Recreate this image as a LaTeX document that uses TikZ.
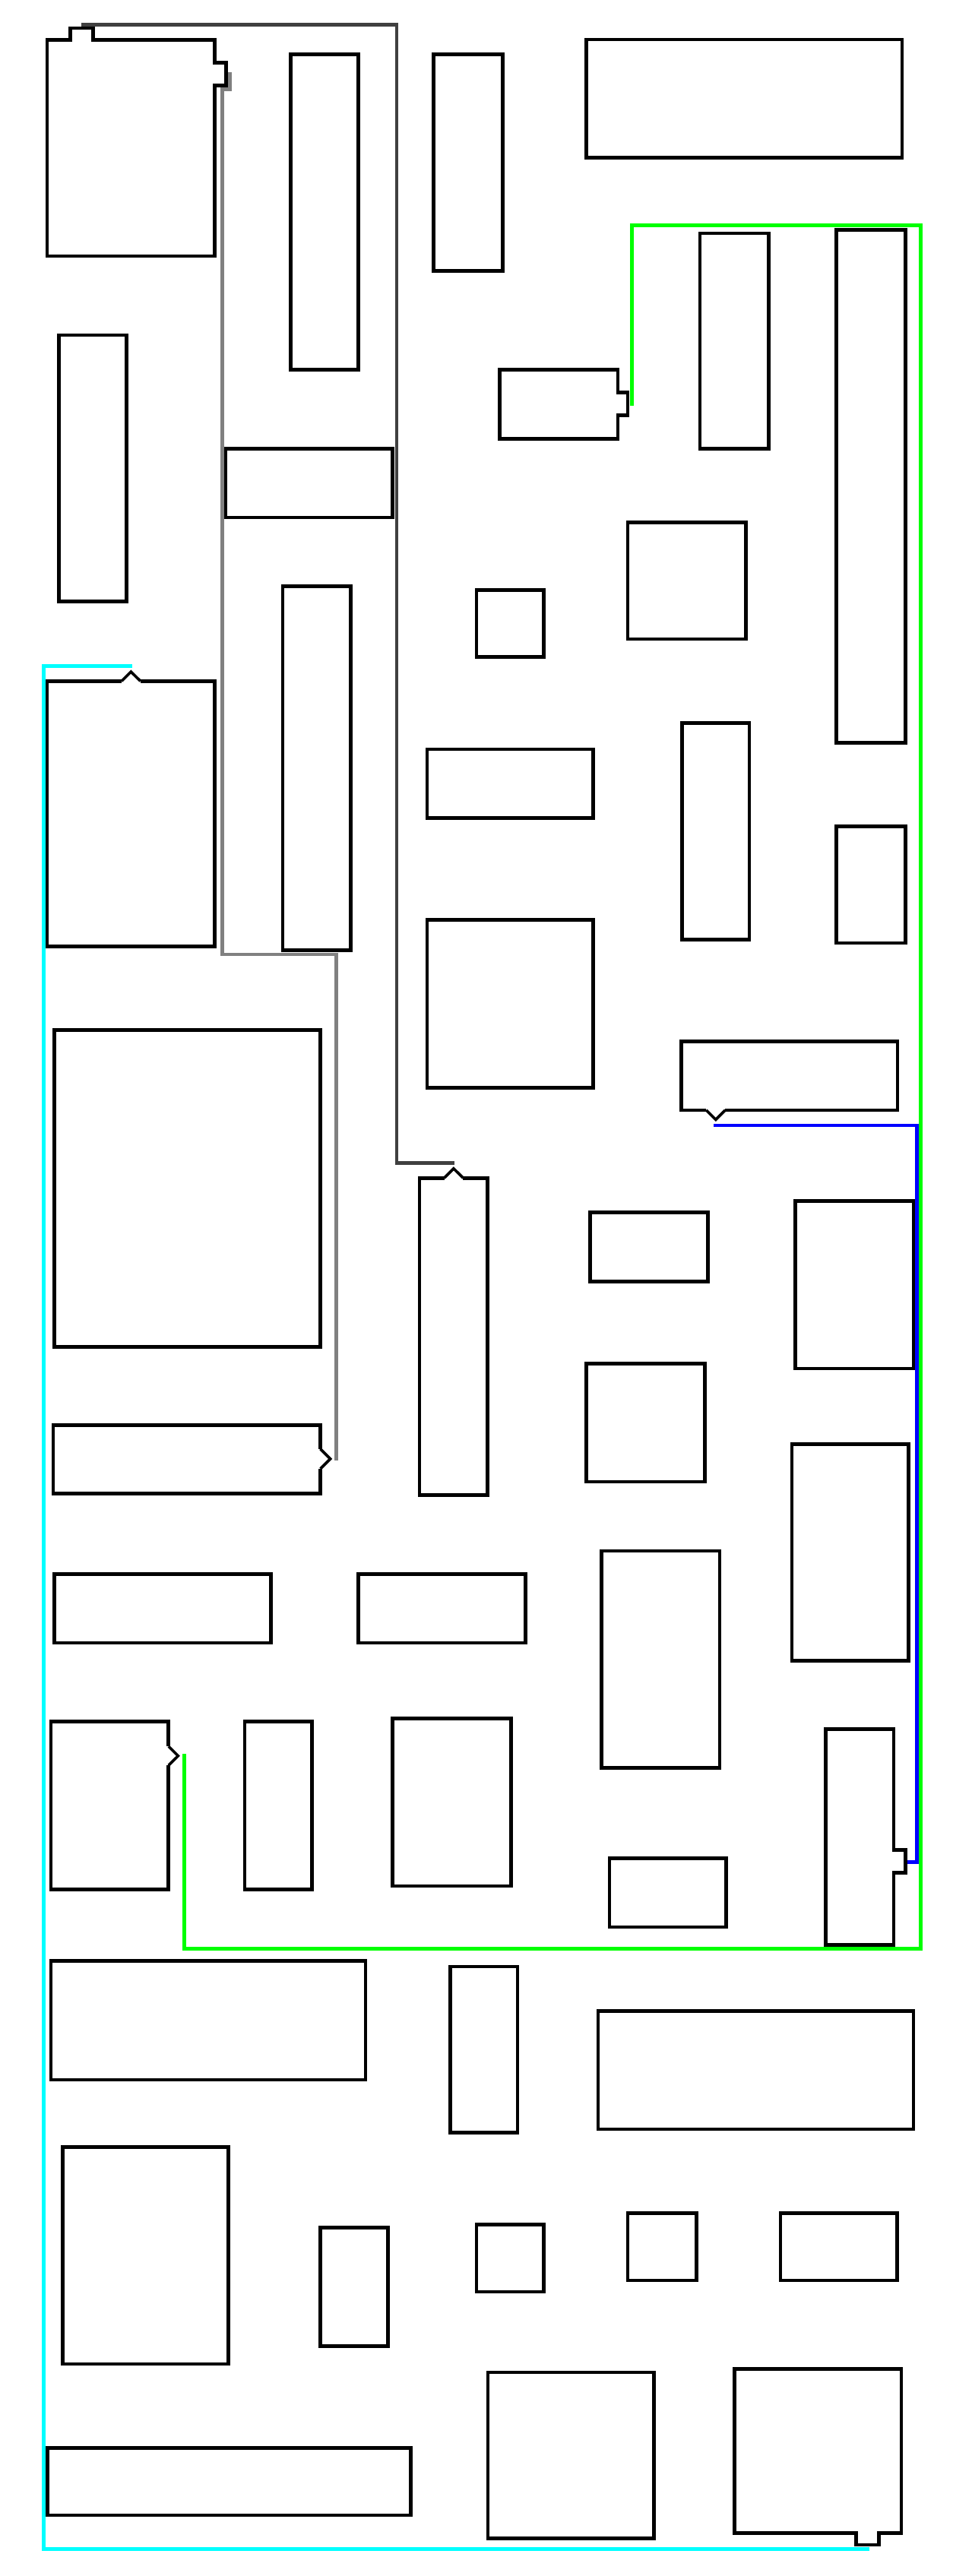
\documentclass[tikz,border=0pt]{standalone}
\usetikzlibrary{fit}
\definecolor{darkwire}{RGB}{64,64,64}
\definecolor{graywire}{RGB}{128,128,128}
\definecolor{greenwire}{RGB}{0,255,0}
\definecolor{bluewire}{RGB}{0,0,255}
\definecolor{cyanwire}{RGB}{0,255,255}

\begin{document}
\begin{tikzpicture}[
    x=0.05cm,
    y=-0.05cm,
    room/.style={draw,line width=3.1pt,inner sep=0pt,outer sep=0pt},
    tab/.style={draw,line width=3.1pt},
    point/.style={draw,line width=2.4pt,line join=miter},
    wire/.style={line width=3.1pt}
]
  \fill[white] (0,0) rectangle (580,1568);
  \useasboundingbox (0,0) rectangle (580,1568);

  % rooms: name/left/top/right/bottom
  \foreach \n/\xa/\ya/\xb/\yb in {
      A/28.7/24.2/130.6/155.9, B/177/33/218/225, C/264/33/306/165,
      D/357/24/549/96, G/304/225/376/267, H/426/142/468/273,
      I/509/140/551/452, J/36/204/77/366, K/137/273/239/315,
      L/382/318/454/389, M/290/359/331/400, N/172/357/213.5/578.5,
      O/28.7/414.6/130.6/576, P/260/456/361/498, Q/415/440/456/572,
      R/509/503/551/574, S/260/560/361/662, T/414.6/634/546.3/675.7,
      V/33/627/195/820, W/359/738/431/780, U/484/731/556/833,
      E/255.3/717/296.8/910, X/357/830/429/902, F/32.4/867.5/195/909,
      Y/482/879/553/1011, Z/33/958/165/1000, AA/218/958/320/1000,
      AB/366/944/438/1076, AC/31/1048/102.6/1150, AD/149/1048/190/1150,
      AE/239/1046/311/1148, AF/371/1131/442/1173, AG/502.5/1052.4/544/1184,
      AH/31/1193.5/222.5/1266, AI/274/1197/315/1298, AJ/364/1224/556/1296,
      AK/38/1307/139/1439, AL/195/1356/236/1428, AM/290/1354/331/1395,
      AN/382/1347/424/1388, AO/475/1347/546/1388, AP/29/1490/250/1531,
      AQ/297/1444/398/1545, AR/447/1442/548.6/1542}
    \node[room,fit={(\xa,\ya) (\xb,\yb)}] (rm\n) {};

  % square tabs
  \fill[white] (43.9,23.1) rectangle (55.5,25.3);
  \draw[tab] (42.8,24.2) |- (56.6,17.1) -- (56.6,24.2);
  \fill[white] (129.5,39.1) rectangle (131.7,50.8);
  \draw[tab] (130.6,38) -| (137.5,51.9) -- (130.6,51.9);
  \fill[white] (374.9,240.1) rectangle (377.1,251.7);
  \draw[tab] (376,239) -| (382,252.8) -- (376,252.8);
  \fill[white] (542.9,1127.1) rectangle (545.1,1138.9);
  \draw[tab] (544,1126) -| (551,1140) -- (544,1140);
  \fill[white] (522.1,1540.9) rectangle (533.9,1543.1);
  \draw[tab] (521,1542) |- (535,1549) -- (535,1542);

  % pointed tabs
  \fill[white] (74,413.4) rectangle (85.5,415.8);
  \draw[point] (74,414.6) -- (79.7,408.9) -- (85.5,414.6);
  \fill[white] (270.4,715.9) rectangle (281.9,718.1);
  \draw[point] (270.4,717) -- (276.1,711.3) -- (281.9,717);
  \fill[white] (429.8,674.6) rectangle (441.4,676.8);
  \draw[point] (429.8,675.7) -- (435.6,681.5) -- (441.4,675.7);
  \fill[white] (193.9,882) rectangle (196.1,894);
  \draw[point] (195,882) -- (201,888) -- (195,894);
  \fill[white] (101.5,1063) rectangle (103.7,1074.5);
  \draw[point] (102.6,1063) -- (108.4,1068.8) -- (102.6,1074.5);

  % wire ends
  \coordinate (a-top) at (49.5,14.9);
  \coordinate (e-tip) at (276.8,708);
  \coordinate (a-side) at (139.8,43.9);
  \coordinate (f-tip) at (204.6,889);
  \coordinate (g-side) at (384.5,247);
  \coordinate (ac-tip) at (112,1067.6);
  \coordinate (t-tip) at (434.4,685);
  \coordinate (ag-side) at (552.1,1133.4);
  \coordinate (o-tip) at (80.5,405.5);
  \coordinate (ar-foot) at (529,1551.5);

  \draw[wire,darkwire] (a-top) -| (241.5,708) -- (e-tip);
  \draw[wire,graywire] (a-side) -- (139.8,54.4) -| (135.2,581) -| (f-tip);
  \draw[wire,greenwire] (g-side) |- (560.4,137.3) -- (560.4,1186) -| (ac-tip);
  \draw[wire,bluewire] (t-tip) -| (558,1133.4) -- (ag-side);
  \draw[wire,cyanwire] (o-tip) -| (26.6,1551.5) -- (ar-foot);
\end{tikzpicture}
\end{document}
